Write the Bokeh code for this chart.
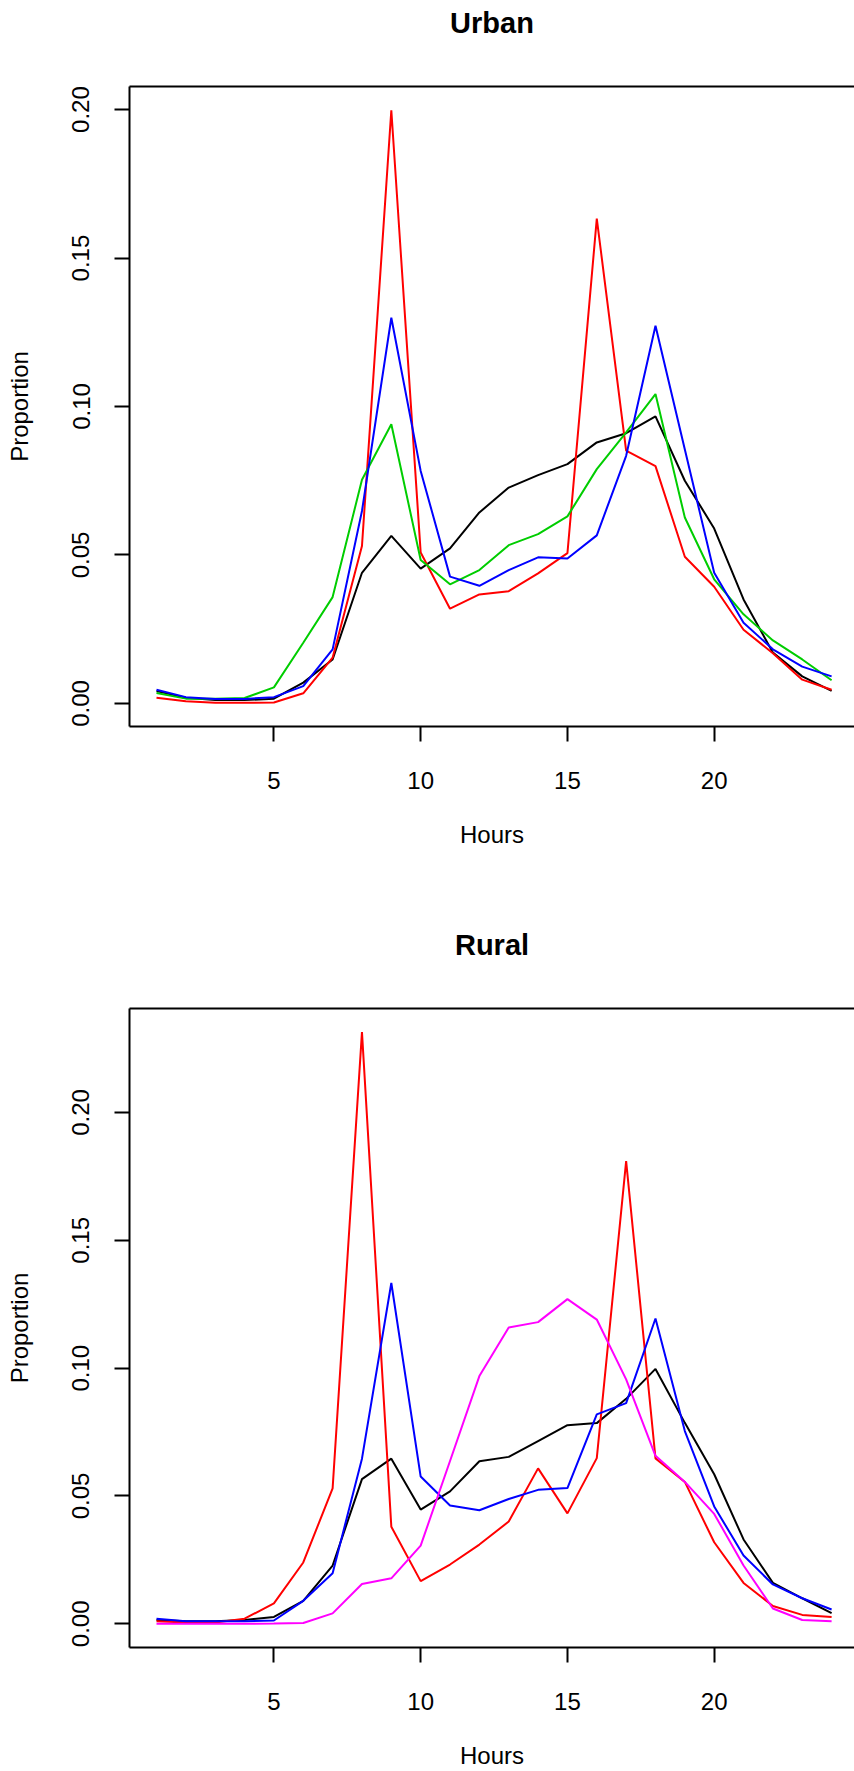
from bokeh.plotting import figure
from bokeh.models import LinearAxis, FixedTicker, PrintfTickFormatter, Range1d
from bokeh.layouts import column
from bokeh.embed import file_html
from bokeh.resources import INLINE

hours = list(range(1, 25))

# Urban panel
urban_black = [0.0042, 0.0019, 0.0011, 0.0011, 0.0016, 0.0070, 0.0148, 0.0440, 0.0564, 0.0454,
               0.0522, 0.0643, 0.0727, 0.0769, 0.0806, 0.0879, 0.0910, 0.0967, 0.0750, 0.0589,
               0.0350, 0.0171, 0.0091, 0.0042]
urban_red = [0.0019, 0.0007, 0.0002, 0.0002, 0.0003, 0.0034, 0.0154, 0.0530, 0.1998, 0.0508,
             0.0319, 0.0367, 0.0378, 0.0438, 0.0506, 0.1633, 0.0851, 0.0799, 0.0494, 0.0393,
             0.0248, 0.0169, 0.0080, 0.0046]
urban_green = [0.0035, 0.0016, 0.0016, 0.0018, 0.0054, 0.0204, 0.0358, 0.0753, 0.0940, 0.0483,
               0.0401, 0.0449, 0.0533, 0.0570, 0.0630, 0.0789, 0.0913, 0.1042, 0.0626, 0.0418,
               0.0300, 0.0212, 0.0148, 0.0078]
urban_blue = [0.0046, 0.0021, 0.0015, 0.0015, 0.0021, 0.0058, 0.0182, 0.0648, 0.1299, 0.0783,
              0.0427, 0.0396, 0.0449, 0.0492, 0.0488, 0.0566, 0.0834, 0.1272, 0.0855, 0.0440,
              0.0272, 0.0182, 0.0124, 0.0091]

# Rural panel
rural_black = [0.0015, 0.0010, 0.0010, 0.0015, 0.0027, 0.0090, 0.0228, 0.0566, 0.0646, 0.0447,
               0.0518, 0.0636, 0.0653, 0.0715, 0.0777, 0.0785, 0.0880, 0.0997, 0.0786, 0.0585,
               0.0330, 0.0160, 0.0100, 0.0042]
rural_red = [0.0010, 0.0005, 0.0005, 0.0020, 0.0080, 0.0240, 0.0530, 0.2314, 0.0380, 0.0167,
             0.0232, 0.0310, 0.0400, 0.0608, 0.0432, 0.0648, 0.1810, 0.0647, 0.0555, 0.0319,
             0.0160, 0.0070, 0.0035, 0.0027]
rural_blue = [0.0020, 0.0010, 0.0010, 0.0010, 0.0013, 0.0090, 0.0198, 0.0646, 0.1333, 0.0576,
              0.0463, 0.0444, 0.0488, 0.0524, 0.0531, 0.0819, 0.0863, 0.1194, 0.0754, 0.0459,
              0.0267, 0.0154, 0.0100, 0.0056]
rural_magenta = [0.0000, 0.0000, 0.0000, 0.0000, 0.0001, 0.0003, 0.0041, 0.0156, 0.0178, 0.0306,
                 0.0637, 0.0969, 0.1159, 0.1180, 0.1270, 0.1190, 0.0956, 0.0657, 0.0555, 0.0430,
                 0.0228, 0.0060, 0.0015, 0.0010]

x_ticks = [5, 10, 15, 20]
y_ticks = [0.0, 0.05, 0.10, 0.15, 0.20]

FONT = "Liberation Sans"


def make_panel(title, series, height, bottom_border):
    allv = [v for s, _ in series for v in s]
    lo, hi = min(allv), max(allv)
    ext = 0.04 * (hi - lo)
    p = figure(width=854, height=height, output_backend="svg", toolbar_location=None,
               tools="", x_range=Range1d(0.08, 24.78), y_range=Range1d(lo - ext, hi + ext),
               min_border_left=129, min_border_right=0, min_border_top=86,
               min_border_bottom=bottom_border)
    p.outline_line_color = None
    p.xgrid.visible = False
    p.ygrid.visible = False
    p.background_fill_color = "white"
    p.border_fill_color = "white"

    p.title.text = title
    p.title.align = "center"
    p.title.text_font = FONT
    p.title.text_font_size = "29px"
    p.title.text_font_style = "bold"
    p.title.text_color = "black"
    p.title.standoff = 0

    for ax in (p.xaxis[0], p.yaxis[0]):
        ax.axis_line_width = 2
        ax.axis_line_color = "black"
        ax.major_tick_line_width = 2
        ax.major_tick_line_color = "black"
        ax.major_tick_out = 15
        ax.major_tick_in = 0
        ax.minor_tick_out = 0
        ax.minor_tick_in = 0
        ax.major_label_text_font = FONT
        ax.major_label_text_font_size = "24px"
        ax.major_label_text_color = "black"
        ax.axis_label_text_font = FONT
        ax.axis_label_text_font_size = "24px"
        ax.axis_label_text_font_style = "normal"
        ax.axis_label_text_color = "black"

    xa = p.xaxis[0]
    xa.ticker = FixedTicker(ticks=x_ticks)
    xa.axis_label = "Hours"
    xa.major_label_standoff = 30
    xa.axis_label_standoff = 29

    ya = p.yaxis[0]
    ya.ticker = FixedTicker(ticks=y_ticks)
    ya.formatter = PrintfTickFormatter(format="%.2f")
    ya.major_label_orientation = "vertical"
    ya.axis_label = "Proportion"
    ya.major_label_standoff = 25
    ya.axis_label_standoff = 37

    # top edge of the box; its blank label leaves room between box and title
    top = LinearAxis(ticker=FixedTicker(ticks=[]), axis_line_width=2, axis_line_color="black",
                     major_tick_out=0, major_tick_in=0, minor_tick_out=0, minor_tick_in=0,
                     major_label_text_font_size="0px", major_label_standoff=0,
                     axis_label=" ", axis_label_text_font_size="1px", axis_label_standoff=44)
    p.add_layout(top, "above")

    for vals, col in series:
        p.line(hours, vals, line_color=col, line_width=2)
    return p


p1 = make_panel("Urban", [(urban_black, "#000000"), (urban_red, "#FF0000"),
                          (urban_green, "#00CD00"), (urban_blue, "#0000FF")], 922, 196)
p2 = make_panel("Rural", [(rural_black, "#000000"), (rural_red, "#FF0000"),
                          (rural_blue, "#0000FF"), (rural_magenta, "#FF00FF")], 849, 123)

layout = column(p1, p2, spacing=0)
open("out.html", "w").write(file_html(layout, INLINE))
